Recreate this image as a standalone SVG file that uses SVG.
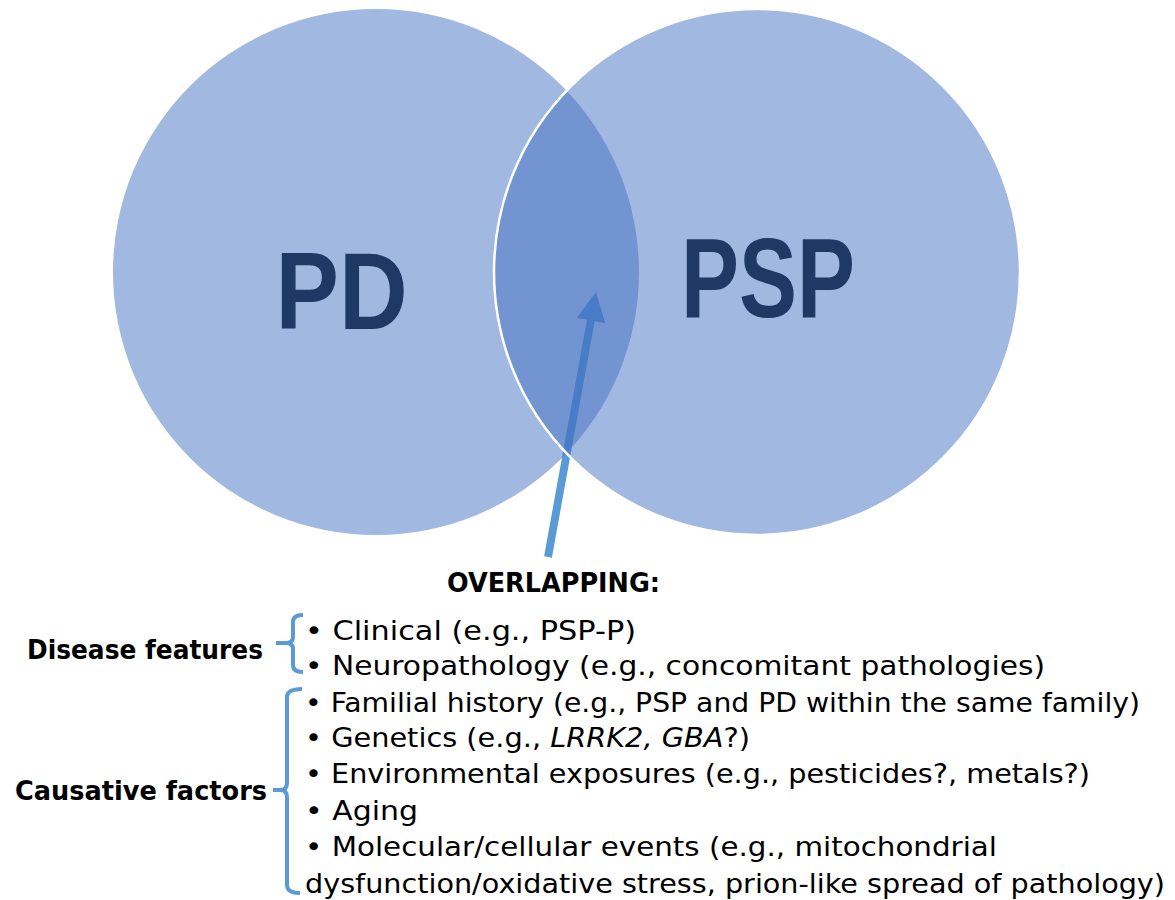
<svg xmlns="http://www.w3.org/2000/svg" width="1175" height="900" viewBox="0 0 1175 900">
<style>
.circ{fill:#4472C4;fill-opacity:0.5}
.big{font-family:"Liberation Sans",Arial,sans-serif;font-weight:bold;fill:#203864;font-size:110px}
.lbl{font-family:"DejaVu Sans","Liberation Sans",sans-serif;font-weight:bold;fill:#000;font-size:26.5px}
.itm{font-family:"DejaVu Sans","Liberation Sans",sans-serif;fill:#000;font-size:27px}
.brace{fill:none;stroke:#5B9BD5;stroke-width:4;stroke-linejoin:round;stroke-linecap:butt}
</style>
<rect width="1175" height="900" fill="#fff"/>
<g id="connectors">
<polygon points="544.1,556.3 586.9,319.8 576.5,317.9 596,292 605.1,323.1 594.7,321.2 551.9,557.7" fill="#5B9BD5"/>
</g>
<g id="node-pd">
<circle class="circ" cx="376" cy="272" r="263"/>
<text class="big" x="341.5" y="329" text-anchor="middle" textLength="132" lengthAdjust="spacingAndGlyphs">PD</text>
</g>
<g id="node-psp">
<circle class="circ" cx="757" cy="272" r="263" stroke="#fff" stroke-width="2.5" stroke-opacity="1"/>
<text class="big" x="768" y="317" text-anchor="middle" textLength="174" lengthAdjust="spacingAndGlyphs" style="font-size:113px">PSP</text>
</g>
<g id="overlap-label">
<text class="lbl" x="447" y="592" textLength="213" lengthAdjust="spacingAndGlyphs">OVERLAPPING:</text>
</g>
<g id="disease-features">
<text class="lbl" x="27" y="659" textLength="236" lengthAdjust="spacingAndGlyphs">Disease features</text>
<path class="brace" d="M303 615 Q293 615 293 622 L293 637 Q293 643 286 643 L276 643 M286 643 Q293 643 293 649 L293 665 Q293 672 303 672"/>
<text class="itm" x="305" y="640" textLength="331" lengthAdjust="spacingAndGlyphs">• Clinical (e.g., PSP-P)</text>
<text class="itm" x="305" y="675" textLength="740" lengthAdjust="spacingAndGlyphs">• Neuropathology (e.g., concomitant pathologies)</text>
</g>
<g id="causative-factors">
<text class="lbl" x="15" y="800" textLength="252" lengthAdjust="spacingAndGlyphs">Causative factors</text>
<path class="brace" d="M302 689 Q287 689 287 697 L287 783 Q287 790 280 790 L273 790 M280 790 Q287 790 287 797 L287 885 Q287 893 300 893"/>
<text class="itm" x="305" y="712" textLength="835" lengthAdjust="spacingAndGlyphs">• Familial history (e.g., PSP and PD within the same family)</text>
<text class="itm" x="305" y="747" textLength="445" lengthAdjust="spacingAndGlyphs">• Genetics (e.g., <tspan font-style="italic">LRRK2, GBA</tspan>?)</text>
<text class="itm" x="305" y="783" textLength="785" lengthAdjust="spacingAndGlyphs">• Environmental exposures (e.g., pesticides?, metals?)</text>
<text class="itm" x="305" y="820" textLength="113" lengthAdjust="spacingAndGlyphs">• Aging</text>
<text class="itm" x="305" y="856" textLength="692" lengthAdjust="spacingAndGlyphs">• Molecular/cellular events (e.g., mitochondrial</text>
<text class="itm" x="305" y="893" textLength="860" lengthAdjust="spacingAndGlyphs">dysfunction/oxidative stress, prion-like spread of pathology)</text>
</g>
</svg>
